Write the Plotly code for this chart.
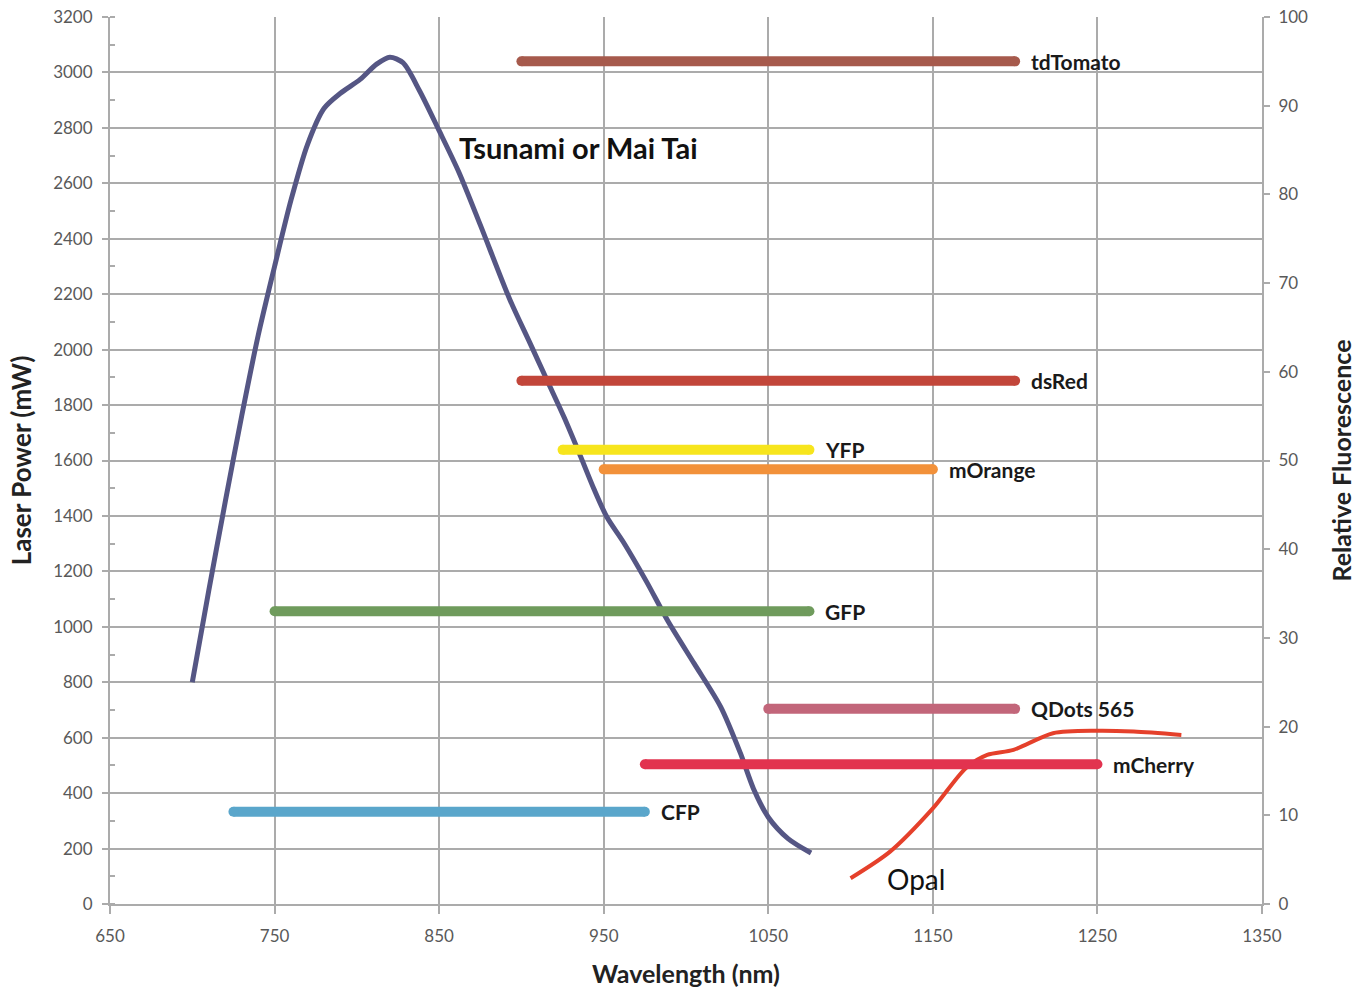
import plotly.graph_objects as go

# --- Laser power curves (left axis, mW) ---
tsunami_nm = [700, 710, 720, 730, 740, 750, 760, 770, 780, 790, 802, 812, 820, 828, 838,
              850, 862, 875, 893, 905, 916, 926, 936, 944, 952, 962, 976, 989, 1005, 1021,
              1033, 1041, 1050, 1062, 1076]
tsunami_mw = [800, 1130, 1450, 1760, 2050, 2300, 2540, 2740, 2870, 2925, 2975, 3030, 3055,
              3035, 2935, 2790, 2640, 2450, 2180, 2026, 1884, 1755, 1614, 1498, 1395, 1305, 1163,
              1021, 867, 712, 545, 416, 313, 236, 184]

opal_nm = [1100, 1124, 1150, 1170, 1183, 1199, 1223, 1250, 1272, 1301]
opal_mw = [93, 189, 345, 490, 538, 556, 616, 625, 622, 610]

# --- Fluorescent protein excitation ranges (right axis, relative fluorescence) ---
fp_names = ["tdTomato", "dsRed", "YFP", "mOrange", "GFP", "QDots 565", "mCherry", "CFP"]
fp_start = [900, 900, 925, 950, 750, 1050, 975, 725]
fp_end = [1200, 1200, 1075, 1150, 1075, 1200, 1250, 975]
fp_level = [95, 59, 51.2, 49, 33, 22, 15.75, 10.4]
fp_colors = ["#a65a4c", "#c2463a", "#f7e51d", "#f2913a", "#6f9b5c", "#c2667a", "#e2334f", "#5aa6cb"]

x_ticks = [650, 750, 850, 950, 1050, 1150, 1250, 1350]

GRID = "#ababab"
TICKC = "#595959"
FONT = "Lato"

fig = go.Figure()

for name, x0, x1, lvl, col in zip(fp_names, fp_start, fp_end, fp_level, fp_colors):
    fig.add_trace(go.Scatter(
        x=[x0, x1], y=[lvl, lvl], yaxis="y2", mode="lines+markers",
        line=dict(color=col, width=10),
        marker=dict(color=col, size=10, line=dict(width=0)),
        name=name, showlegend=False, hoverinfo="name"))
    fig.add_annotation(x=x1, y=lvl, yref="y2", text=name, showarrow=False,
                       xanchor="left", yanchor="middle", xshift=14,
                       font=dict(family=FONT, size=21, color="#1a1a1a", weight="bold"))

fig.add_trace(go.Scatter(x=tsunami_nm, y=tsunami_mw, mode="lines",
                         line=dict(color="#555684", width=5, shape="spline", smoothing=0.8),
                         name="Tsunami or Mai Tai", showlegend=False))
fig.add_trace(go.Scatter(x=opal_nm, y=opal_mw, mode="lines",
                         line=dict(color="#e5402b", width=4, shape="spline", smoothing=0.8),
                         name="Opal", showlegend=False))

fig.add_annotation(x=861, y=2731, text="Tsunami or Mai Tai", showarrow=False,
                   xanchor="left", yanchor="middle",
                   font=dict(family=FONT, size=29, color="#111111", weight="bold"))
fig.add_annotation(x=1121, y=90, text="Opal", showarrow=False,
                   xanchor="left", yanchor="middle",
                   font=dict(family=FONT, size=28, color="#111111"))

fig.update_layout(
    width=1368, height=990,
    margin=dict(l=110, r=106, t=17, b=86, autoexpand=False),
    paper_bgcolor="white", plot_bgcolor="white",
    font=dict(family=FONT),
    xaxis=dict(range=[650, 1350], tickvals=x_ticks, showgrid=True, gridcolor=GRID, gridwidth=1.5,
               showline=True, linecolor=GRID, linewidth=2, ticks="outside", ticklen=8,
               tickcolor=GRID, tickwidth=2, zeroline=False, automargin=False,
               ticklabelstandoff=8,
               tickfont=dict(family=FONT, size=17, color=TICKC),
               title=dict(text="Wavelength (nm)", standoff=20,
                          font=dict(family=FONT, size=25, color="#222222", weight="bold"))),
    yaxis=dict(range=[0, 3200], dtick=200, showgrid=True, gridcolor=GRID, gridwidth=1.5,
               showline=True, linecolor=GRID, linewidth=2, ticks="outside", ticklen=6,
               tickcolor=GRID, tickwidth=2, zeroline=False, automargin=False,
               ticklabelstandoff=6,
               minor=dict(dtick=100, ticks="inside", ticklen=5, tickcolor=GRID, showgrid=False),
               tickfont=dict(family=FONT, size=17, color=TICKC),
               title=dict(text="Laser Power (mW)", standoff=14,
                          font=dict(family=FONT, size=26, color="#222222", weight="bold"))),
    yaxis2=dict(range=[0, 100], dtick=10, overlaying="y", side="right", showgrid=False,
                showline=True, linecolor=GRID, linewidth=2, ticks="outside", ticklen=6,
                tickcolor=GRID, tickwidth=2, zeroline=False, automargin=False,
                ticklabelstandoff=5,
                tickfont=dict(family=FONT, size=17, color=TICKC),
                title=dict(text="Relative Fluorescence", standoff=26,
                           font=dict(family=FONT, size=25, color="#222222", weight="bold"))),
)

fig.write_html("out.html", config={"displayModeBar": False},
               post_script="document.body.style.margin='0';")
